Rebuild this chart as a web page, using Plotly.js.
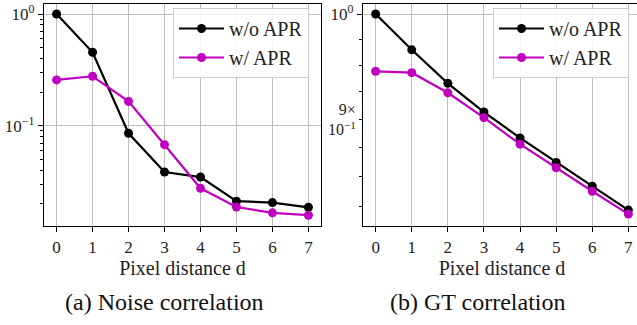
<!DOCTYPE html>
<html>
<head>
<meta charset="utf-8">
<script src="https://cdn.plot.ly/plotly-3.0.1.min.js"></script>
<style>html,body{margin:0;padding:0;background:#fff;overflow:hidden}</style>
</head>
<body>
<div id="chart" style="width:641px;height:325px"></div>
<script>
// ---- data ----
const distances = [0, 1, 2, 3, 4, 5, 6, 7];
const noiseWithout = [1.0, 0.454, 0.0855, 0.0385, 0.0347, 0.0211, 0.0205, 0.0186];
const noiseWith    = [0.257, 0.277, 0.165, 0.0676, 0.0275, 0.0187, 0.0166, 0.0158];
const gtWithout = [1.0, 0.9648, 0.933, 0.9066, 0.8834, 0.862, 0.8418, 0.8219];
const gtWith    = [0.9443, 0.943, 0.9242, 0.9015, 0.8779, 0.8574, 0.8375, 0.8186];
const seriesNames = ["w/o APR", "w/ APR"];
const captions = ["(a) Noise correlation", "(b) GT correlation"];
const xTitle = "Pixel distance d";
const leftMajorVals = [1, 0.1];
const leftMajorText = ["10<sup>0</sup>", "10<sup>\u22121</sup>"];
const leftMinorVals = [0.02,0.03,0.04,0.05,0.06,0.07,0.08,0.09,0.2,0.3,0.4,0.5,0.6,0.7,0.8,0.9];
const rightMajorVals = [1];
const rightMajorText = ["10<sup>0</sup>"];
const rightMinorVals = [0.825,0.85,0.875,0.9,0.925,0.95,0.975];
const rightMinorLabelVals = [0.9];
const rightMinorLabelText = ["9\u00d7<br>10<sup>\u22121</sup>"];

const BLACK = "#000000", MAG = "#bf00bf";
const FONT = "Liberation Serif";
const W = 641, H = 325;

function tr(x, y, name, color, xa, ya, legend, show, op) {
  return {x: x, y: y, name: name, type: "scatter", mode: "lines+markers",
    xaxis: xa, yaxis: ya, legend: legend, showlegend: show, opacity: op,
    hoverinfo: "skip",
    line: {color: color, width: 2.2}, marker: {color: color, size: 9}};
}
const data = [
  // invisible carriers so the overlaid tick axes are drawn
  tr(distances, noiseWithout, "", BLACK, "x", "y3", "legend", false, 0),
  tr(distances, gtWithout, "", BLACK, "x2", "y4", "legend2", false, 0),
  tr(distances, gtWithout, "", BLACK, "x2", "y5", "legend2", false, 0),
  tr(distances, noiseWithout, seriesNames[0], BLACK, "x", "y", "legend", true, 1),
  tr(distances, noiseWith, seriesNames[1], MAG, "x", "y", "legend", true, 1),
  tr(distances, gtWithout, seriesNames[0], BLACK, "x2", "y2", "legend2", true, 1),
  tr(distances, gtWith, seriesNames[1], MAG, "x2", "y2", "legend2", true, 1)
];

const ydom = [1 - 226/H, 1 - 4/H];
const LEFT_RANGE = [-1.898, 0.0895];
const RIGHT_RANGE = [-0.0921, 0.00435];
const xCommon = {
  tickmode: "array", tickvals: distances, ticktext: distances.map(String),
  showgrid: true, gridcolor: "#bdbdbd", gridwidth: 1,
  showline: true, linecolor: "#000", linewidth: 1.2, mirror: true,
  ticks: "outside", ticklen: 5, tickwidth: 1, tickcolor: "#000",
  tickfont: {family: FONT, size: 17, color: "#222"},
  title: {text: xTitle, font: {family: FONT, size: 20, color: "#222"}, standoff: 2},
  zeroline: false
};
const yCommon = {
  type: "log", domain: ydom,
  showgrid: true, gridcolor: "#bdbdbd", gridwidth: 1,
  showline: true, linecolor: "#000", linewidth: 1.2, mirror: true,
  ticks: "outside", ticklen: 5, tickwidth: 1, tickcolor: "#000",
  tickfont: {family: FONT, size: 17, color: "#222"},
  tickmode: "array", zeroline: false
};
const overlayCommon = {
  type: "log", domain: ydom, side: "left",
  showgrid: false, showline: false, zeroline: false,
  ticks: "outside", ticklen: 3, tickwidth: 1, tickcolor: "#000",
  tickmode: "array", tickfont: {family: FONT, size: 16, color: "#222"}
};
const legendCommon = {
  font: {family: FONT, size: 20, color: "#222"},
  bgcolor: "rgba(255,255,255,0.85)", bordercolor: "#cccccc", borderwidth: 1,
  xanchor: "left", yanchor: "top", tracegroupgap: 0, itemwidth: 45
};

const layout = {
  width: W, height: H,
  margin: {l: 0, r: 0, t: 0, b: 0},
  paper_bgcolor: "#fff", plot_bgcolor: "#fff",
  showlegend: true,
  font: {family: FONT, color: "#222"},
  xaxis: Object.assign({}, xCommon, {domain: [44/W, 321/W], range: [-0.35, 7.35], anchor: "y"}),
  yaxis: Object.assign({}, yCommon, {anchor: "x", range: LEFT_RANGE,
    tickvals: leftMajorVals, ticktext: leftMajorText}),
  xaxis2: Object.assign({}, xCommon, {domain: [363/W, 1], range: [-0.35, 7.35], anchor: "y2"}),
  yaxis2: Object.assign({}, yCommon, {anchor: "x2", range: RIGHT_RANGE,
    tickvals: rightMajorVals, ticktext: rightMajorText}),
  yaxis3: Object.assign({}, overlayCommon, {overlaying: "y", anchor: "x", range: LEFT_RANGE,
    tickvals: leftMinorVals, showticklabels: false}),
  yaxis4: Object.assign({}, overlayCommon, {overlaying: "y2", anchor: "x2", range: RIGHT_RANGE,
    tickvals: rightMinorVals, showticklabels: false}),
  yaxis5: Object.assign({}, overlayCommon, {overlaying: "y2", anchor: "x2", range: RIGHT_RANGE,
    tickvals: rightMinorLabelVals, ticktext: rightMinorLabelText, ticks: "outside", ticklen: 3}),
  legend: Object.assign({}, legendCommon, {x: 173/W, y: 1 - 8/H}),
  legend2: Object.assign({}, legendCommon, {x: 493/W, y: 1 - 8/H}),
  annotations: [
    {text: captions[0], xref: "paper", yref: "paper", x: 164/W, y: 1 - 302/H,
     xanchor: "center", yanchor: "middle", showarrow: false, font: {family: FONT, size: 24, color: "#111"}},
    {text: captions[1], xref: "paper", yref: "paper", x: 478/W, y: 1 - 302/H,
     xanchor: "center", yanchor: "middle", showarrow: false, font: {family: FONT, size: 24, color: "#111"}}
  ]
};
Plotly.newPlot("chart", data, layout, {displayModeBar: false, staticPlot: true});
</script>
</body>
</html>
